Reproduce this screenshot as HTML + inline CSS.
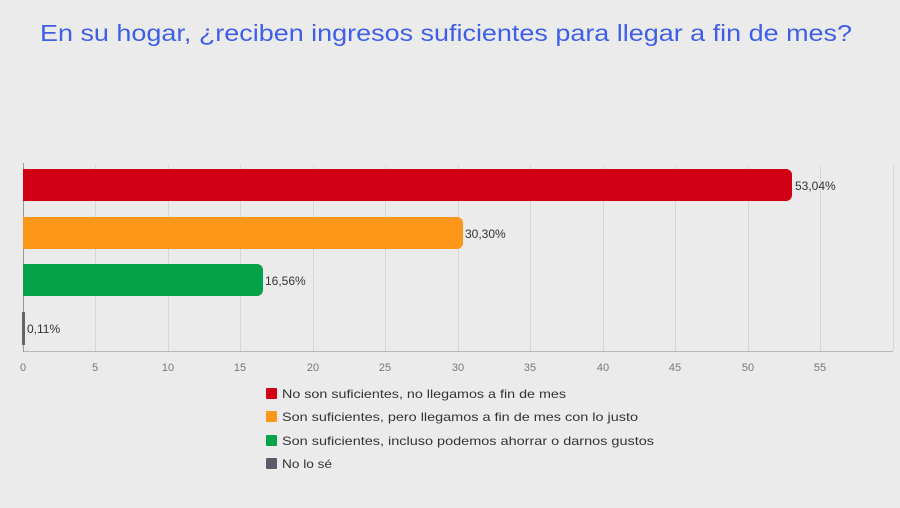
<!DOCTYPE html>
<html><head><meta charset="utf-8"><style>
html,body{margin:0;padding:0;background:#ebebeb;}
svg{display:block;font-family:"Liberation Sans",sans-serif;}
</style></head><body>
<svg width="900" height="508" viewBox="0 0 900 508" xmlns="http://www.w3.org/2000/svg">
<rect width="900" height="508" fill="#ebebeb"/>
<text x="40" y="41" font-size="23" fill="#3f5fe8" textLength="812" lengthAdjust="spacingAndGlyphs">En su hogar, ¿reciben ingresos suficientes para llegar a fin de mes?</text>
<g stroke="#d6d6d6" stroke-width="1">
<line x1="95.5" y1="165" x2="95.5" y2="351"/><line x1="168.5" y1="165" x2="168.5" y2="351"/>
<line x1="240.5" y1="165" x2="240.5" y2="351"/><line x1="313.5" y1="165" x2="313.5" y2="351"/>
<line x1="385.5" y1="165" x2="385.5" y2="351"/><line x1="458.5" y1="165" x2="458.5" y2="351"/>
<line x1="530.5" y1="165" x2="530.5" y2="351"/><line x1="603.5" y1="165" x2="603.5" y2="351"/>
<line x1="675.5" y1="165" x2="675.5" y2="351"/><line x1="748.5" y1="165" x2="748.5" y2="351"/>
<line x1="820.5" y1="165" x2="820.5" y2="351"/><line x1="893.5" y1="165" x2="893.5" y2="351"/>
</g>
<line x1="23" y1="351.5" x2="893" y2="351.5" stroke="#b8b8b8"/>
<line x1="23.5" y1="163" x2="23.5" y2="352" stroke="#999"/>
<path d="M23 169H786a6 6 0 0 1 6 6V195a6 6 0 0 1-6 6H23Z" fill="#d20014"/>
<path d="M23 217H457a6 6 0 0 1 6 6V243a6 6 0 0 1-6 6H23Z" fill="#fd9719"/>
<path d="M23 264H257a6 6 0 0 1 6 6V290a6 6 0 0 1-6 6H23Z" fill="#06a24a"/>
<rect x="22" y="312" width="3" height="33" fill="#666"/>
<g font-size="12" fill="#333">
<text x="795" y="190">53,04%</text>
<text x="465" y="238">30,30%</text>
<text x="265" y="285">16,56%</text>
<text x="27" y="333">0,11%</text>
</g>
<g font-size="11" fill="#777" text-anchor="middle">
<text x="23" y="371">0</text><text x="95" y="371">5</text><text x="168" y="371">10</text>
<text x="240" y="371">15</text><text x="313" y="371">20</text><text x="385" y="371">25</text>
<text x="458" y="371">30</text><text x="530" y="371">35</text><text x="603" y="371">40</text>
<text x="675" y="371">45</text><text x="748" y="371">50</text><text x="820" y="371">55</text>
</g>
<rect x="266" y="388" width="11" height="11" rx="1" fill="#d20014"/>
<rect x="266" y="411" width="11" height="11" rx="1" fill="#fd9719"/>
<rect x="266" y="435" width="11" height="11" rx="1" fill="#06a24a"/>
<rect x="266" y="458" width="11" height="11" rx="1" fill="#5a5a6a"/>
<g font-size="12" fill="#333">
<text x="282" y="398" textLength="284" lengthAdjust="spacingAndGlyphs">No son suficientes, no llegamos a fin de mes</text>
<text x="282" y="421" textLength="356" lengthAdjust="spacingAndGlyphs">Son suficientes, pero llegamos a fin de mes con lo justo</text>
<text x="282" y="445" textLength="372" lengthAdjust="spacingAndGlyphs">Son suficientes, incluso podemos ahorrar o darnos gustos</text>
<text x="282" y="468" textLength="50" lengthAdjust="spacingAndGlyphs">No lo sé</text>
</g>
</svg>
</body></html>
